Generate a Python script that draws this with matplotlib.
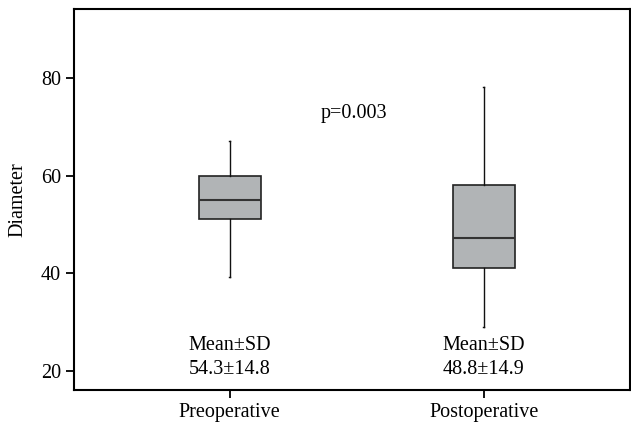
import matplotlib.pyplot as plt

plt.rcParams['font.family'] = ['Liberation Serif', 'DejaVu Serif']

# Datos (min, Q1, mediana, Q3, max)
grupos = ['Preoperative', 'Postoperative']
minimos = [39.1, 29.0]
q1 = [51.0, 41.0]
medianas = [55.0, 47.1]
q3 = [60.0, 58.1]
maximos = [67.1, 78.1]
linea1 = ['Mean±SD', 'Mean±SD']
linea2 = ['54.3±14.8', '48.8±14.9']
p_valor = 'p=0.003'

stats = []
for i in range(len(grupos)):
    stats.append({'whislo': minimos[i], 'q1': q1[i], 'med': medianas[i],
                  'q3': q3[i], 'whishi': maximos[i], 'label': grupos[i]})

fig = plt.figure(figsize=(6.31, 4.22), dpi=100)
ax = fig.add_axes([74/631, 32/422, 556/631, 381/422])

ax.bxp(stats, positions=[1, 2], widths=0.245, patch_artist=True,
       showfliers=False, capwidths=0.006,
       boxprops=dict(facecolor='#b1b4b6', edgecolor='#222222', linewidth=1.2),
       medianprops=dict(color='#333333', linewidth=1.5),
       whiskerprops=dict(color='#111111', linewidth=1.0),
       capprops=dict(color='#111111', linewidth=1.0))

fs = 14.5
for i in range(len(grupos)):
    ax.text(i + 1, 25.2, linea1[i], ha='center', va='center', fontsize=fs)
    ax.text(i + 1, 20.3, linea2[i], ha='center', va='center', fontsize=fs)

ax.text(1.359, 72.7, p_valor, ha='left', va='center', fontsize=fs)

ax.set_xlim(0.387, 2.576)
ax.set_ylim(16.0, 94.2)
ax.set_yticks([20, 40, 60, 80])
ax.set_ylabel('Diameter', fontsize=fs)
ax.yaxis.set_label_coords(-0.083, 0.5)
ax.tick_params(axis='both', labelsize=fs, length=6, width=1.3, direction='out')

for s in ax.spines.values():
    s.set_linewidth(1.5)

fig.savefig('out.png', dpi=100)
